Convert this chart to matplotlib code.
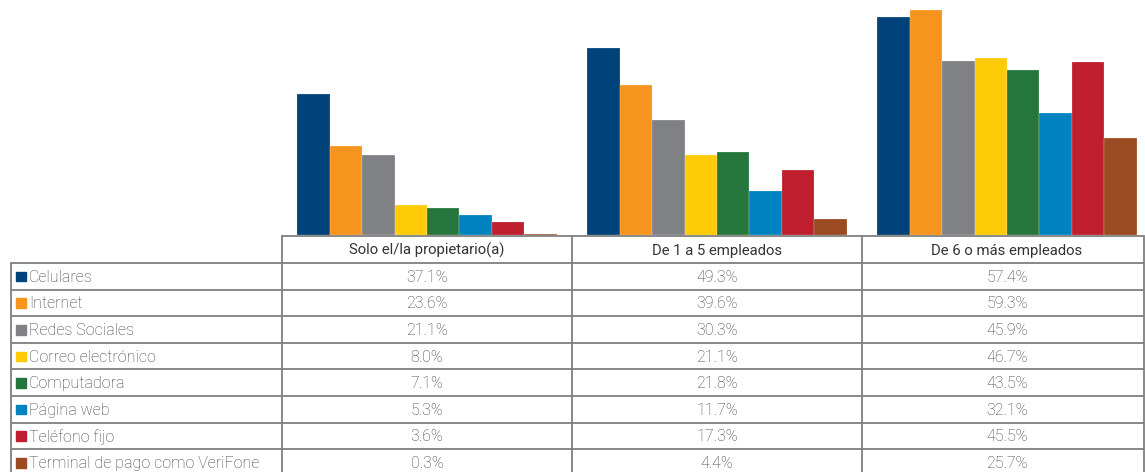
import matplotlib.pyplot as plt
from matplotlib.patches import Rectangle

plt.rcParams['font.family'] = ['Roboto', 'DejaVu Sans']

categories = ["Solo el/la propietario(a)", "De 1 a 5 empleados", "De 6 o más empleados"]
series = ["Celulares", "Internet", "Redes Sociales", "Correo electrónico",
          "Computadora", "Página web", "Teléfono fijo", "Terminal de pago como VeriFone"]
colors = ["#00427A", "#F7941D", "#808184", "#FFCB08",
          "#25763C", "#0083C1", "#BE1E2D", "#9B4A22"]
celulares = [37.1, 49.3, 57.4]
internet = [23.6, 39.6, 59.3]
redes = [21.1, 30.3, 45.9]
correo = [8.0, 21.1, 46.7]
computadora = [7.1, 21.8, 43.5]
pagina = [5.3, 11.7, 32.1]
telefono = [3.6, 17.3, 45.5]
terminal = [0.3, 4.4, 25.7]
values = [celulares, internet, redes, correo, computadora, pagina, telefono, terminal]

W, H = 1145, 472
fig = plt.figure(figsize=(W / 100, H / 100), dpi=100)

# bar axes: columns are 290 px wide, starting at x=282, baseline just above y=236
col0, colw, base = 282, 290, 236
bar_base = base - 0.7
ax = fig.add_axes([col0 / W, (H - bar_base) / H, 3 * colw / W, bar_base / H])
bw = 0.112
for j, (name, vals, c) in enumerate(zip(series, values, colors)):
    xs = [i + (j - 3.5) * bw for i in range(3)]
    ax.bar(xs, vals, width=bw, color=c, edgecolor='white', linewidth=0.15)
ax.set_xlim(-0.5, 2.5)
ax.set_ylim(0, bar_base / 3.8)
ax.axis('off')

# table drawn in pixel coordinates
tb = fig.add_axes([0, 0, 1, 1])
tb.set_xlim(0, W)
tb.set_ylim(H, 0)
tb.axis('off')
tb.patch.set_alpha(0)

lc = '#7f7f7f'
lw = 1.3
row_h = 26.6
hdr_top = base
hdr_bot = 263
left = 11
right = 1144
bottom = hdr_bot + row_h * len(series) + 4
col_x = [col0 + k * colw for k in range(4)]

tb.plot([col0, right], [hdr_top, hdr_top], color=lc, lw=lw, solid_capstyle='butt')
for r in range(len(series) + 1):
    y = hdr_bot + r * row_h
    tb.plot([left, right], [y, y], color=lc, lw=lw, solid_capstyle='butt')
tb.plot([left, left], [hdr_bot, bottom], color=lc, lw=lw)
for x in col_x[:3]:
    tb.plot([x, x], [hdr_top, bottom], color=lc, lw=lw)
tb.plot([right, right], [hdr_top, bottom], color=lc, lw=lw)

for i, cat in enumerate(categories):
    tb.text(col0 + (i + 0.5) * colw, (hdr_top + hdr_bot) / 2 + 1, cat,
            ha='center', va='center', fontsize=10.7, color='#333333')

txt = '#3f3f3f'
fs = 11.5
fw = 'light'
for r, (name, vals, c) in enumerate(zip(series, values, colors)):
    yc = hdr_bot + (r + 0.5) * row_h
    tb.add_patch(Rectangle((16, yc - 4.5), 9.5, 9.5, color=c))
    tb.text(29, yc + 1, name, ha='left', va='center', fontsize=fs, color=txt,
            fontweight=fw)
    for i, v in enumerate(vals):
        tb.text(col0 + (i + 0.5) * colw, yc + 1, f"{v:.1f}%",
                ha='center', va='center', fontsize=fs, color=txt, fontweight=fw)

fig.savefig("out.png", dpi=100)
